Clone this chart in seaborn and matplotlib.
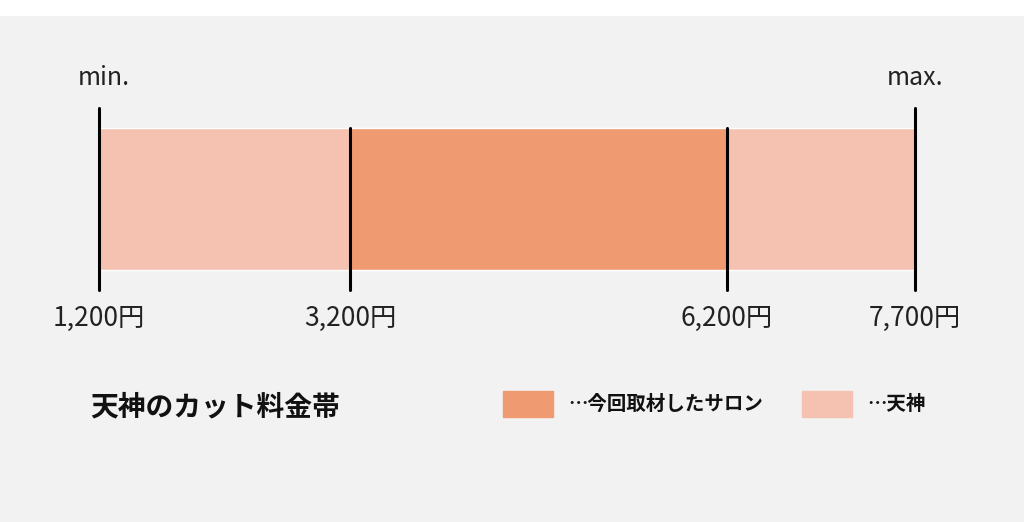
import matplotlib.pyplot as plt
import seaborn as sns

# price range data (yen)
tenjin_range = [1200, 7700]
salon_range = [3200, 6200]
tick_values = [1200, 3200, 6200, 7700]
tick_labels = ["1,200円", "3,200円", "6,200円", "7,700円"]
legend_labels = ["…今回取材したサロン", "…天神"]
title = "天神のカット料金帯"

light = "#f5c1b0"
dark = "#f09a72"
bg = "#f2f2f2"

sns.set_theme(style="white")
plt.rcParams['font.family'] = ['Noto Sans CJK JP', 'DejaVu Sans']

fig = plt.figure(figsize=(10.24, 5.22), dpi=100)
fig.patch.set_facecolor(bg)
ax = fig.add_axes([0, 0, 1, 1])
ax.set_facecolor(bg)

# map yen to pixels: 1200 -> x=99, 7700 -> x=915
k = (915 - 99) / (tenjin_range[1] - tenjin_range[0])
x0 = tenjin_range[0] - 99 / k
ax.set_xlim(x0, x0 + 1024 / k)
ax.set_ylim(522, 0)
ax.axis("off")

ax.axhspan(0, 15, color="white", zorder=0)

ax.barh(199, tenjin_range[1] - tenjin_range[0], left=tenjin_range[0], height=142, color=light, zorder=1)
ax.barh(199, salon_range[1] - salon_range[0], left=salon_range[0], height=142, color=dark, zorder=2)

for v, lab in zip(tick_values, tick_labels):
    top = 108 if v in tenjin_range else 128
    ax.plot([v, v], [top, 290], color="black", lw=2.2, zorder=3)
    ax.text(v, 318, lab, ha="center", va="center", fontsize=19, color="#222222")

ax.text(tenjin_range[0] + 5 / k, 78, "min.", ha="center", va="center", fontsize=18, color="#222222")
ax.text(tenjin_range[1], 78, "max.", ha="center", va="center", fontsize=18, color="#222222")

fig.text(90 / 1024, 1 - 407 / 522, title, ha="left", va="center", fontsize=20, fontweight="bold", color="#111111")

for (bx, tx), col, lab in zip([(503, 568), (802, 867)], [dark, light], legend_labels):
    fig.patches.append(plt.Rectangle((bx / 1024, 1 - 417 / 522), 50 / 1024, 26 / 522,
                                     transform=fig.transFigure, color=col))
    fig.text(tx / 1024, 1 - 404 / 522, lab, ha="left", va="center", fontsize=14, fontweight="bold", color="#111111")

fig.savefig("out.png", dpi=100, facecolor=bg)
